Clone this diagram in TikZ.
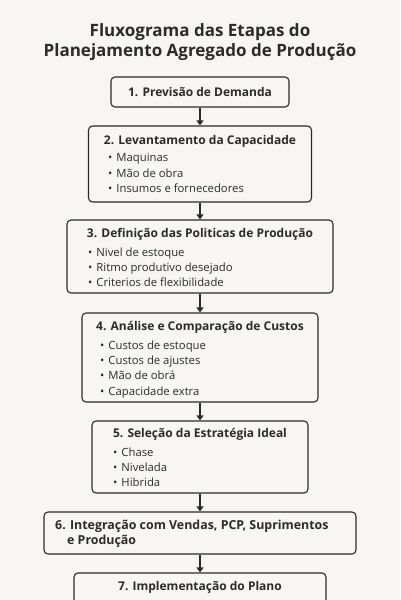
\documentclass[tikz,border=0pt]{standalone}
\usepackage{fontspec}
\setmainfont{Open Sans}
\usetikzlibrary{arrows.meta}
\definecolor{papel}{HTML}{F7F6F2}
\definecolor{tinta}{HTML}{2B2B2B}
\newcommand{\ponto}{\textbullet\hspace{4pt}}
\tikzset{
  etapa/.style={draw=tinta, line width=1.1pt, rounded corners=4pt, fill=papel},
  titulo/.style={font=\fontsize{12}{15}\selectfont\bfseries, text=tinta, inner sep=0pt},
  itens/.style={font=\fontsize{11.3}{15.3}\selectfont, text=tinta, align=left, anchor=north west, inner sep=0pt},
  seta/.style={draw=tinta, line width=1.1pt, -{Triangle[length=5pt,width=7pt]}}
}
\begin{document}
\begin{tikzpicture}[x=1pt,y=-1pt]
\fill[papel] (0,0) rectangle (400,600);
\useasboundingbox (0,0) rectangle (400,600);
\clip (0,0) rectangle (400,600);
% titulo
\node[font=\fontsize{17}{20}\selectfont\bfseries, text=tinta, align=center] (cab) at (200,42) {Fluxograma das Etapas do\\Planejamento Agregado de Produção};
% etapa 1
\node[etapa, minimum width=178pt, minimum height=30pt] (e1) at (200,92) {};
\node[titulo] (t1) at (200,92) {1. Previsão de Demanda};
% etapa 2
\node[etapa, minimum width=223pt, minimum height=76pt] (e2) at (200,164) {};
\node[titulo] (t2) at (200,141) {2. Levantamento da Capacidade};
\node[itens] (l2) at (108,153.5) {\ponto Maquinas\\\ponto Mão de obra\\\ponto Insumos e fornecedores};
% etapa 3
\node[etapa, minimum width=266pt, minimum height=73pt] (e3) at (200,256.5) {};
\node[titulo] (t3) at (200,234) {3. Definição das Politicas de Produção};
\node[itens] (l3) at (88,247.5) {\ponto Nivel de estoque\\\ponto Ritmo produtivo desejado\\\ponto Criterios de flexibilidade};
% etapa 4
\node[etapa, minimum width=236pt, minimum height=89pt] (e4) at (200,357.5) {};
\node[titulo] (t4) at (200,327) {4. Análise e Comparação de Custos};
\node[itens] (l4) at (100,340.5) {\ponto Custos de estoque\\\ponto Custos de ajustes\\\ponto Mão de obrá\\\ponto Capacidade extra};
% etapa 5
\node[etapa, minimum width=216pt, minimum height=72pt] (e5) at (200,457) {};
\node[titulo] (t5) at (200,434) {5. Seleção da Estratégia Ideal};
\node[itens] (l5) at (113,447.5) {\ponto Chase\\\ponto Nivelada\\\ponto Hibrida};
% etapa 6
\node[etapa, minimum width=312pt, minimum height=42pt] (e6) at (200,533) {};
\node[titulo, align=left, anchor=west, font=\fontsize{12.4}{15}\selectfont\bfseries] (t6) at (55,533.5) {6. Integração com Vendas, PCP, Suprimentos\\\hspace*{12pt}e Produção};
% etapa 7
\node[etapa, minimum width=252pt, minimum height=44pt] (e7) at (200,595) {};
\node[titulo] (t7) at (200,587) {7. Implementação do Plano};
% setas
\draw[seta] (e1) -- (e2);
\draw[seta] (e2) -- (e3);
\draw[seta] (e3) -- (e4);
\draw[seta] (e4) -- (e5);
\draw[seta] (e5) -- (e6);
\draw[seta] (e6) -- (e7);
\end{tikzpicture}
\end{document}
